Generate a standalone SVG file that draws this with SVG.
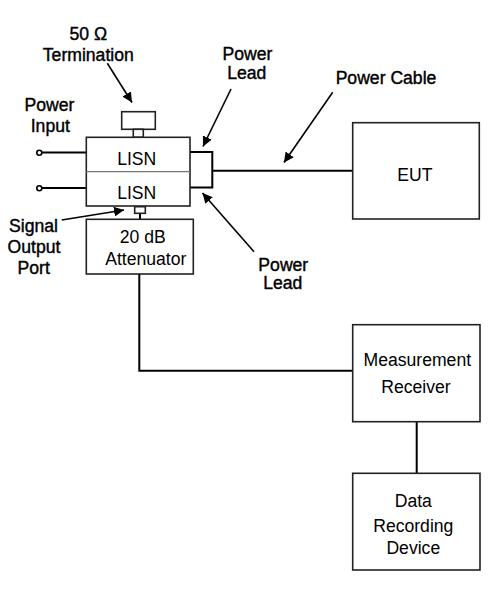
<svg xmlns="http://www.w3.org/2000/svg" width="496" height="595" viewBox="0 0 496 595">
<defs>
<marker id="ah" viewBox="0 0 10 10" refX="10" refY="5" markerWidth="10" markerHeight="10" markerUnits="userSpaceOnUse" orient="auto">
<path d="M0,0 L10,5 L0,10 Z" fill="#000"/>
</marker>
</defs>
<style>
text{font-family:"Liberation Sans",Arial,sans-serif;font-size:17.6px;fill:#000;text-anchor:middle}
.lbl{stroke:#000;stroke-width:0.4}
.box{fill:#fff;stroke:#222;stroke-width:1.6}
.wire{fill:none;stroke:#000;stroke-width:2}
.arr{fill:none;stroke:#000;stroke-width:1.6;marker-end:url(#ah)}
.term{fill:#fff;stroke:#000;stroke-width:1.6}
</style>
<rect width="496" height="595" fill="#fff"/>
<g id="connectors">
<line class="wire" x1="41" y1="152.5" x2="86" y2="152.5"/>
<line class="wire" x1="41" y1="188" x2="86" y2="188"/>
<polyline class="wire" points="190,152 212.3,152 212.3,187.5 190,187.5"/>
<line class="wire" x1="212.3" y1="170.7" x2="353" y2="170.7"/>
<line class="wire" x1="140" y1="213.3" x2="140" y2="219.3"/>
<polyline class="wire" points="139.3,274 139.3,370.7 352.7,370.7"/>
<line class="wire" x1="416.7" y1="421.7" x2="416.7" y2="473.3"/>
<line class="arr" x1="107.3" y1="63.3" x2="132" y2="102.5"/>
<line class="arr" x1="231" y1="89" x2="203" y2="146.5"/>
<line class="arr" x1="332.7" y1="92.3" x2="284" y2="162.5"/>
<line class="arr" x1="254" y1="251.7" x2="202.5" y2="193"/>
<line class="arr" x1="61.7" y1="220" x2="124" y2="210"/>
</g>
<g id="termination">
<rect class="box" x="121.7" y="111.7" width="33.6" height="17.6"/>
<rect class="box" x="133.3" y="129.3" width="10" height="8"/>
</g>
<g id="power-input-terminals">
<circle class="term" cx="39.3" cy="152.7" r="2.5"/>
<circle class="term" cx="39.3" cy="188.3" r="2.5"/>
</g>
<g id="lisn">
<rect class="box" x="86.3" y="137.3" width="103.7" height="68.7"/>
<line x1="86.3" y1="171.7" x2="190" y2="171.7" stroke="#777" stroke-width="1.2"/>
<text x="136.7" y="164.7">LISN</text>
<text x="136.7" y="199.3">LISN</text>
</g>
<g id="signal-port">
<rect class="box" x="134.7" y="206.7" width="10.6" height="6.6"/>
</g>
<g id="attenuator">
<rect class="box" x="86.3" y="219.3" width="107" height="54.7"/>
<text x="142.8" y="243.3">20 dB</text>
<text x="145.8" y="265">Attenuator</text>
</g>
<g id="eut">
<rect class="box" x="352.7" y="122.7" width="126.6" height="96.3"/>
<text x="414.8" y="180.7">EUT</text>
</g>
<g id="measurement-receiver">
<rect class="box" x="352.7" y="324.7" width="127.3" height="97"/>
<text x="417.3" y="365.7">Measurement</text>
<text x="416" y="392.7">Receiver</text>
</g>
<g id="data-recording-device">
<rect class="box" x="352.7" y="473.3" width="127.3" height="96.7"/>
<text x="413.3" y="507.3">Data</text>
<text x="413.3" y="532.3">Recording</text>
<text x="413.3" y="554.3">Device</text>
</g>
<g id="labels" class="lbl">
<text x="88.3" y="40">50 Ω</text>
<text x="88.3" y="61">Termination</text>
<text x="247.5" y="60">Power</text>
<text x="246.7" y="79.3">Lead</text>
<text x="386" y="84.3">Power Cable</text>
<text x="49.5" y="111">Power</text>
<text x="50.3" y="132.3">Input</text>
<text x="33.5" y="231.7">Signal</text>
<text x="34" y="253.3">Output</text>
<text x="33.7" y="274">Port</text>
<text x="283.3" y="270.7">Power</text>
<text x="282.7" y="289.3">Lead</text>
</g>
</svg>
